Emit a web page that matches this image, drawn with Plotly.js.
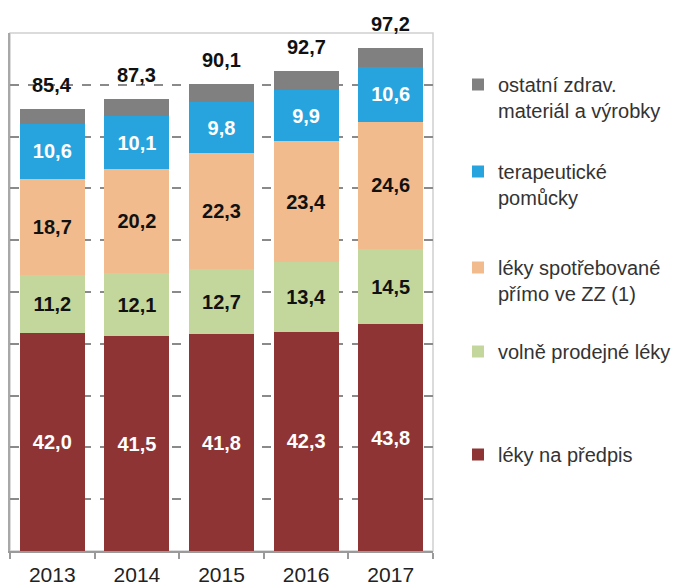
<!DOCTYPE html>
<html>
<head>
<meta charset="utf-8">
<script src="https://cdn.plot.ly/plotly-3.0.1.min.js"></script>
<style>html,body{margin:0;padding:0;background:#fff;}#chart{width:682px;height:585px;}</style>
</head>
<body>
<div id="chart"></div>
<script>
const years = ['2013', '2014', '2015', '2016', '2017'];
const lekyNaPredpis = [42.0, 41.5, 41.8, 42.3, 43.8];
const volneProdejne = [11.2, 12.1, 12.7, 13.4, 14.5];
const spotrebovane = [18.7, 20.2, 22.3, 23.4, 24.6];
const pomucky = [10.6, 10.1, 9.8, 9.9, 10.6];
const ostatni = [2.9, 3.4, 3.5, 3.7, 3.7];
const totals = [85.4, 87.3, 90.1, 92.7, 97.2];

const seriesNames = [
  'léky na předpis',
  'volně prodejné léky',
  'léky spotřebované<br>přímo ve ZZ (1)',
  'terapeutické<br>pomůcky',
  'ostatní zdrav.<br>materiál a výrobky'
];

const FONT = '"Liberation Sans", Arial, sans-serif';
const fmt = v => v.toFixed(1).replace('.', ',');

function barTrace(vals, name, color, textColor, legendId, showText) {
  return {
    type: 'bar',
    x: years,
    y: vals,
    name: name,
    legend: legendId,
    marker: {color: color},
    text: showText ? vals.map(fmt) : vals.map(() => ''),
    textposition: 'inside',
    insidetextanchor: 'middle',
    constraintext: 'none',
    textfont: {family: FONT, size: 20, color: textColor, weight: 'bold'},
    hoverinfo: 'none'
  };
}

const data = [
  barTrace(lekyNaPredpis, seriesNames[0], '#8E3434', '#ffffff', 'legend5', true),
  barTrace(volneProdejne, seriesNames[1], '#C3D69B', '#111111', 'legend4', true),
  barTrace(spotrebovane, seriesNames[2], '#F2BB8D', '#111111', 'legend3', true),
  barTrace(pomucky, seriesNames[3], '#27A4DD', '#ffffff', 'legend2', true),
  barTrace(ostatni, seriesNames[4], '#808080', '#ffffff', 'legend', false)
];

const W = 682, H = 585;
function legendAt(topPx) {
  return {
    xref: 'container', yref: 'container',
    x: 458 / W, y: 1 - topPx / H,
    xanchor: 'left', yanchor: 'top',
    bgcolor: 'rgba(0,0,0,0)', borderwidth: 0,
    valign: 'top',
    itemwidth: 30,
    font: {family: FONT, size: 20, color: '#333333'}
  };
}

const annotations = years.map((yr, i) => ({
  x: i, y: totals[i], xref: 'x', yref: 'y',
  text: fmt(totals[i]),
  showarrow: false,
  yanchor: 'middle',
  yshift: 24,
  font: {family: FONT, size: 20, color: '#111111', weight: 'bold'}
}));

const layout = {
  width: W, height: H,
  margin: {l: 10, r: 249, t: 33, b: 34},
  barmode: 'stack',
  bargap: 0.23,
  paper_bgcolor: '#ffffff',
  plot_bgcolor: '#ffffff',
  font: {family: FONT, color: '#222222'},
  showlegend: true,
  legend: legendAt(65),
  legend2: legendAt(152),
  legend3: legendAt(248),
  legend4: legendAt(332),
  legend5: legendAt(435),
  xaxis: {
    type: 'category',
    range: [-0.5, 4.5],
    tickson: 'boundaries',
    ticks: 'outside',
    ticklen: 6,
    tickwidth: 2,
    tickcolor: '#9a9a9a',
    ticklabelstandoff: 4,
    showline: true,
    linecolor: '#9a9a9a',
    linewidth: 2,
    showgrid: false,
    tickfont: {family: FONT, size: 21, color: '#222222'},
    fixedrange: true
  },
  yaxis: {
    range: [0, 100],
    tickvals: [10, 20, 30, 40, 50, 60, 70, 80, 90],
    showticklabels: false,
    ticks: '',
    showgrid: true,
    gridcolor: '#8a8a8a',
    gridwidth: 2,
    griddash: '9px,9px',
    zeroline: false,
    showline: true,
    linecolor: '#a8a8a8',
    linewidth: 2,
    fixedrange: true
  },
  shapes: [{
    type: 'rect', xref: 'paper', yref: 'paper',
    x0: 0, x1: 1, y0: 0, y1: 1,
    line: {color: '#cfcfcf', width: 1.5},
    layer: 'below'
  }],
  annotations: annotations
};

Plotly.newPlot('chart', data, layout, {staticPlot: true, displayModeBar: false});
</script>
</body>
</html>
